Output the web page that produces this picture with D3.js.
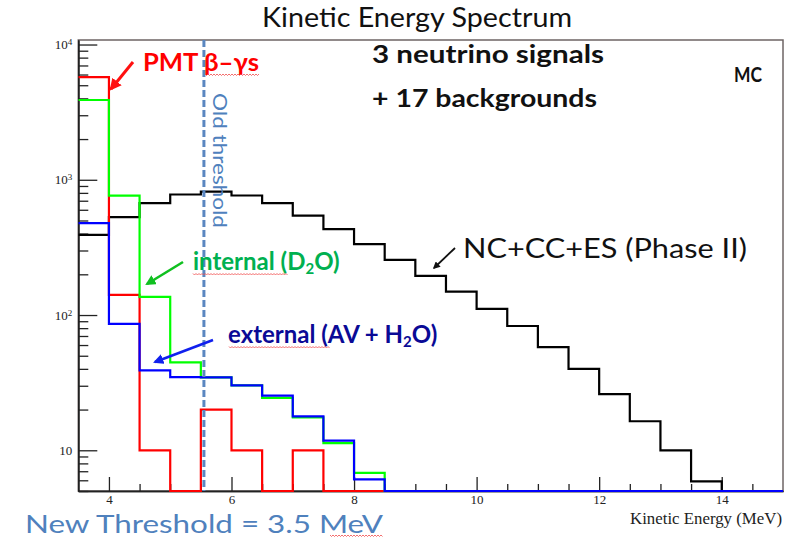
<!DOCTYPE html>
<html>
<head>
<meta charset="utf-8">
<script src="https://cdn.jsdelivr.net/npm/d3@7"></script>
<style>
  body { margin: 0; background: #fff; }
  svg { display: block; }
  .axis-label { font-family: 'Liberation Serif', 'Times New Roman', serif; font-size: 13px; fill: #222; }
</style>
</head>
<body>
<div id="chart"></div>
<script>
var svgWidth = 792;
var svgHeight = 538;

// plot frame (pixels)
var frame = { left: 78.3, right: 783, top: 40, bottom: 491 };

// low edges of the 0.5 MeV bins
var binLow = [3.5, 4, 4.5, 5, 5.5, 6, 6.5, 7, 7.5, 8, 8.5, 9, 9.5, 10, 10.5,
    11, 11.5, 12, 12.5, 13, 13.5, 14, 14.5];
var binHigh = 15;

// counts per bin
var signalCounts = [392, 530, 671, 778, 818, 765, 671, 544, 431, 334, 256, 195,
    149, 111, 83, 58, 40, 26, 16.4, 10, 5.9, 0, 0];
var pmtCounts = [5750, 141, 10, 0, 20, 10, 0, 10, 0, 0, 0, 0,
    0, 0, 0, 0, 0, 0, 0, 0, 0, 0, 0];
var internalCounts = [3890, 764, 136, 44.7, 34.6, 30.2, 24.4, 17.5, 11.3, 6.8, 0, 0,
    0, 0, 0, 0, 0, 0, 0, 0, 0, 0, 0];
var externalCounts = [478, 86, 39, 34.8, 34.6, 30.2, 25.4, 17.8, 11.8, 6.1, 0, 0,
    0, 0, 0, 0, 0, 0, 0, 0, 0, 0, 0];

var oldThreshold = 5.55;

var xMajorTicks = [4, 6, 8, 10, 12, 14];
var xMinorTicks = [4.5, 5, 5.5, 6.5, 7, 7.5, 8.5, 9, 9.5, 10.5, 11, 11.5, 12.5, 13, 13.5, 14.5];
var yMajorTicks = [10, 100, 1000, 10000];
var yMinorTicks = [5, 6, 7, 8, 9, 20, 30, 40, 50, 60, 70, 80, 90,
    200, 300, 400, 500, 600, 700, 800, 900, 2000, 3000, 4000, 5000, 6000, 7000, 8000, 9000];
var yTickExponent = { 10: "", 100: "2", 1000: "3", 10000: "4" };

var svg = d3.select("#chart")
    .append("svg")
    .attr("width", svgWidth)
    .attr("height", svgHeight);

var xScale = d3.scaleLinear()
    .domain([3.5, 15])
    .range([frame.left, frame.right]);

var yScale = d3.scaleLog()
    .domain([5, 10800])
    .range([frame.bottom, frame.top])
    .clamp(true);

var defs = svg.append("defs");
defs.append("clipPath").attr("id", "plotClip")
    .append("rect")
    .attr("x", frame.left)
    .attr("y", frame.top - 2)
    .attr("width", frame.right - frame.left)
    .attr("height", frame.bottom - frame.top + 4);

function addArrowHead(id, color) {
    defs.append("marker")
        .attr("id", id)
        .attr("viewBox", "0 0 10 10")
        .attr("refX", 8)
        .attr("refY", 5)
        .attr("markerWidth", 4)
        .attr("markerHeight", 4)
        .attr("orient", "auto")
        .append("path")
        .attr("d", "M0,0 L10,5 L0,10 z")
        .attr("fill", color);
}
addArrowHead("headRed", "#ff1010");
addArrowHead("headGreen", "#10c020");
addArrowHead("headBlue", "#1020ee");
addArrowHead("headBlack", "#111");

// frame box
svg.append("rect")
    .attr("x", frame.left)
    .attr("y", frame.top)
    .attr("width", frame.right - frame.left)
    .attr("height", frame.bottom - frame.top)
    .attr("fill", "none")
    .attr("stroke", "#6e6464")
    .attr("stroke-width", 1.5);

// y axis (ticks point into the frame)
var yMajorAxis = d3.axisLeft(yScale)
    .tickValues(yMajorTicks)
    .tickSizeInner(-19)
    .tickSizeOuter(0)
    .tickPadding(6)
    .tickFormat(d => "10");

var yAxisG = svg.append("g")
    .attr("transform", `translate(${frame.left},0)`)
    .call(yMajorAxis);

yAxisG.selectAll(".tick text")
    .attr("class", "axis-label")
    .attr("font-size", null)
    .attr("fill", null)
    .attr("font-family", null)
    .each(function (d) {
        var sup = yTickExponent[d];
        if (sup) {
            d3.select(this).append("tspan")
                .attr("dy", "-0.45em")
                .style("font-size", "9px")
                .text(sup);
        }
    });

svg.append("g")
    .attr("transform", `translate(${frame.left},0)`)
    .call(d3.axisLeft(yScale)
        .tickValues(yMinorTicks)
        .tickSizeInner(-10)
        .tickSizeOuter(0)
        .tickFormat(""));

// x axis
var xAxisG = svg.append("g")
    .attr("transform", `translate(0,${frame.bottom})`)
    .call(d3.axisBottom(xScale)
        .tickValues(xMajorTicks)
        .tickSizeInner(-14)
        .tickSizeOuter(0)
        .tickPadding(4)
        .tickFormat(d3.format("d")));

xAxisG.selectAll(".tick text")
    .attr("class", "axis-label")
    .attr("font-size", null)
    .attr("fill", null)
    .attr("font-family", null);

svg.append("g")
    .attr("transform", `translate(0,${frame.bottom})`)
    .call(d3.axisBottom(xScale)
        .tickValues(xMinorTicks)
        .tickSizeInner(-7)
        .tickSizeOuter(0)
        .tickFormat(""));

svg.selectAll(".domain").attr("stroke", "#222").attr("stroke-width", 1.5);
svg.selectAll(".tick line").attr("stroke", "#222").attr("stroke-width", 1.3);

svg.append("text")
    .attr("x", 630)
    .attr("y", 524)
    .attr("font-family", "'Liberation Serif', 'Times New Roman', serif")
    .attr("font-size", 17)
    .attr("fill", "#222")
    .attr("textLength", 152)
    .attr("lengthAdjust", "spacingAndGlyphs")
    .text("Kinetic Energy (MeV)");

// histograms
var histLine = d3.line()
    .x(d => xScale(d[0]))
    .y(d => yScale(Math.max(d[1], 5)))
    .curve(d3.curveStepAfter);

function histPoints(counts) {
    var pts = binLow.map((lo, i) => [lo, counts[i]]);
    pts.push([binHigh, counts[counts.length - 1]]);
    return pts;
}

var series = [
    { counts: signalCounts, color: "#000000" },
    { counts: pmtCounts, color: "#ff0000" },
    { counts: internalCounts, color: "#00ff00" },
    { counts: externalCounts, color: "#0000ff" }
];

var histGroup = svg.append("g").attr("clip-path", "url(#plotClip)");
histGroup.selectAll("path")
    .data(series)
    .enter()
    .append("path")
    .attr("d", d => histLine(histPoints(d.counts)))
    .attr("fill", "none")
    .attr("stroke", d => d.color)
    .attr("stroke-width", 2.2);

// old threshold marker
svg.append("line")
    .attr("x1", xScale(oldThreshold))
    .attr("x2", xScale(oldThreshold))
    .attr("y1", frame.top)
    .attr("y2", frame.bottom)
    .attr("stroke", "#5b87c0")
    .attr("stroke-width", 3)
    .attr("stroke-dasharray", "7,3");

svg.append("text")
    .attr("transform", `translate(${xScale(oldThreshold) + 9},93) rotate(90)`)
    .attr("font-family", "Lato, 'Open Sans', sans-serif")
    .attr("font-size", 19)
    .attr("fill", "#4f81bd")
    .attr("textLength", 135)
    .attr("lengthAdjust", "spacingAndGlyphs")
    .text("Old threshold");

// titles and notes
var sans = "Lato, 'Open Sans', sans-serif";

function note(x, y, size, weight, color, width, str) {
    return svg.append("text")
        .attr("x", x)
        .attr("y", y)
        .attr("font-family", sans)
        .attr("font-size", size)
        .attr("font-weight", weight)
        .attr("fill", color)
        .attr("textLength", width)
        .attr("lengthAdjust", "spacingAndGlyphs")
        .text(str);
}

note(262, 27, 27, 400, "#111", 310, "Kinetic Energy Spectrum");
note(372, 63, 25, 700, "#111", 232, "3 neutrino signals");
note(372, 107, 25, 700, "#111", 225, "+ 17 backgrounds");
note(734, 81.5, 21, 700, "#111", 28, "MC");
note(143, 71, 24, 700, "#ff0000", 116, "PMT β–γs");
note(463, 258, 27, 400, "#111", 284, "NC+CC+ES (Phase II)");
note(25, 532.5, 25, 400, "#4f81bd", 358, "New Threshold = 3.5 MeV");

var internalLabel = svg.append("text")
    .attr("x", 193)
    .attr("y", 270)
    .attr("font-family", sans)
    .attr("font-size", 24)
    .attr("font-weight", 700)
    .attr("fill", "#00b050");
internalLabel.append("tspan").text("internal (D");
internalLabel.append("tspan").attr("dy", 4).attr("font-size", 15).text("2");
internalLabel.append("tspan").attr("dy", -4).text("O)");

var externalLabel = svg.append("text")
    .attr("x", 228)
    .attr("y", 343)
    .attr("font-family", sans)
    .attr("font-size", 24)
    .attr("font-weight", 700)
    .attr("fill", "#0a0a96");
externalLabel.append("tspan").text("external (AV + H");
externalLabel.append("tspan").attr("dy", 4).attr("font-size", 15).text("2");
externalLabel.append("tspan").attr("dy", -4).text("O)");

// spell-check squiggles under some words
function squiggle(x0, x1, y) {
    var pts = [];
    for (var x = x0, k = 0; x <= x1; x += 1.5, k++) {
        pts.push([x, y + (k % 2 ? 1 : -0.5)]);
    }
    svg.append("path")
        .attr("d", d3.line()(pts))
        .attr("fill", "none")
        .attr("stroke", "#f04a4a")
        .attr("stroke-width", 0.8);
}
squiggle(205, 259, 74.5);
squiggle(193, 288, 274);
squiggle(229, 330, 347);
squiggle(330, 383, 535.5);

// arrows pointing at the curves
var arrows = [
    { from: [133, 62], to: [111, 89], color: "#ff1010", head: "headRed", w: 3 },
    { from: [183, 262], to: [147, 284], color: "#10c020", head: "headGreen", w: 2.6 },
    { from: [213, 340], to: [155, 362], color: "#1020ee", head: "headBlue", w: 2.6 },
    { from: [455, 248], to: [434, 268], color: "#111", head: "headBlack", w: 1.8 }
];

svg.selectAll(".arrow")
    .data(arrows)
    .enter()
    .append("line")
    .attr("class", "arrow")
    .attr("x1", d => d.from[0])
    .attr("y1", d => d.from[1])
    .attr("x2", d => d.to[0])
    .attr("y2", d => d.to[1])
    .attr("stroke", d => d.color)
    .attr("stroke-width", d => d.w)
    .attr("marker-end", d => `url(#${d.head})`);
</script>
</body>
</html>
